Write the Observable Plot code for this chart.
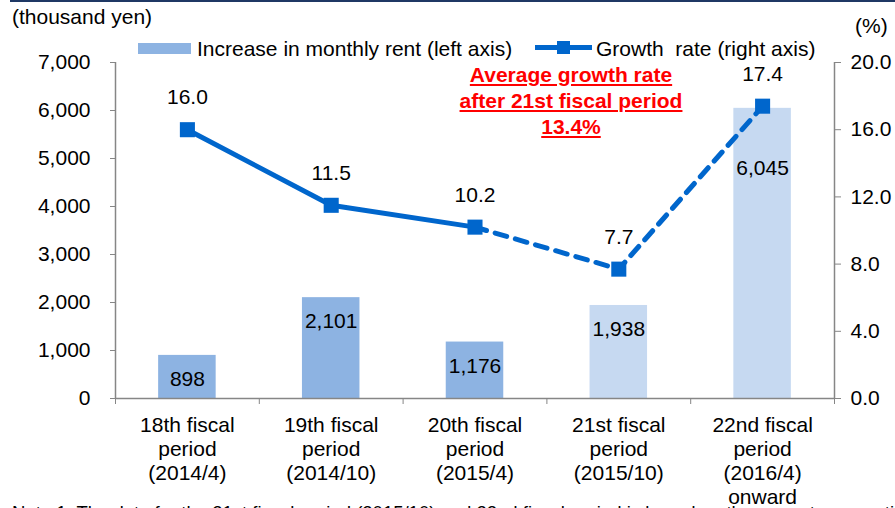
<!DOCTYPE html>
<html>
<head>
<meta charset="utf-8">
<script src="https://cdn.jsdelivr.net/npm/d3@7"></script>
<script src="https://cdn.jsdelivr.net/npm/@observablehq/plot@0.6"></script>
<style>
  html, body { margin: 0; padding: 0; background: #fff; overflow: hidden; }
  #wrap { position: relative; width: 895px; height: 508px; font-family: "Liberation Sans", Arial, sans-serif; color: #000; }
  #wrap svg { position: absolute; left: 0; top: 0; }
  .ov { position: absolute; white-space: nowrap; font-size: 21px; line-height: 21px; }
</style>
</head>
<body>
<div id="wrap">
  <div style="position:absolute;left:10px;top:0;width:885px;height:2px;background:#1f3864;"></div>
  <div class="ov" style="left:12px;top:6px;">(thousand yen)</div>
  <div class="ov" style="left:855px;top:15px;">(%)</div>
  <div style="position:absolute;left:138px;top:43px;width:53px;height:11px;background:#8db3e2;"></div>
  <div class="ov" style="left:197px;top:38px;">Increase in monthly rent (left axis)</div>
  <div style="position:absolute;left:535px;top:45px;width:57px;height:5px;background:#0066cc;"></div>
  <div style="position:absolute;left:557px;top:41px;width:13px;height:13px;background:#0066cc;"></div>
  <div class="ov" style="left:596px;top:38px;">Growth&nbsp; rate (right axis)</div>
  <div style="position:absolute;left:421px;top:62px;width:300px;text-align:center;color:#ff0000;font-weight:bold;font-size:21px;line-height:26px;text-decoration:underline;">Average growth rate<br>after 21st fiscal period<br>13.4%</div>
  <div class="ov" style="left:12px;top:502px;font-size:18.5px;">Note 1: The data for the 21st fiscal period (2015/10) and 22nd fiscal period is based on the current assumptions.</div>
</div>
<script>
const periods = [
  "18th fiscal\nperiod\n(2014/4)",
  "19th fiscal\nperiod\n(2014/10)",
  "20th fiscal\nperiod\n(2015/4)",
  "21st fiscal\nperiod\n(2015/10)",
  "22nd fiscal\nperiod\n(2016/4)\nonward"
];
const rentIncrease = [898, 2101, 1176, 1938, 6045];
const growthRate = [16.0, 11.5, 10.2, 7.7, 17.4];
const isForecast = [false, false, false, true, true];
const leftTicks = [0, 1000, 2000, 3000, 4000, 5000, 6000, 7000];
const rightTicks = [0, 4, 8, 12, 16, 20];

const leftMax = 7000, rightMax = 20;
const k = leftMax / rightMax;

const rows = periods.map((p, i) => ({i, period: p, rent: rentIncrease[i], rate: growthRate[i], forecast: isForecast[i]}));
const bounds = d3.range(periods.length + 1).map(i => i - 0.5);
const half = 0.2;
const axisGray = "#868686";
const fmt = d3.format(",");

const chart = Plot.plot({
  width: 895,
  height: 508,
  marginLeft: 115,
  marginRight: 61,
  marginTop: 62,
  marginBottom: 110,
  style: {fontFamily: "'Liberation Sans', Arial, sans-serif", fontSize: "21px", color: "#000", background: "transparent"},
  x: {type: "linear", domain: [-0.5, periods.length - 0.5], axis: null},
  y: {domain: [0, leftMax], axis: null},
  marks: [
    Plot.rectY(rows.filter(d => !d.forecast), {x1: d => d.i - half, x2: d => d.i + half, y1: 0, y2: "rent", fill: "#8db3e2"}),
    Plot.rectY(rows.filter(d => d.forecast), {x1: d => d.i - half, x2: d => d.i + half, y1: 0, y2: "rent", fill: "#c6d9f1"}),
    Plot.ruleX([-0.5], {stroke: axisGray, strokeWidth: 1.5}),
    Plot.ruleX([periods.length - 0.5], {stroke: axisGray, strokeWidth: 1.5}),
    Plot.ruleY([0], {stroke: axisGray, strokeWidth: 1.5}),
    Plot.axisY(leftTicks, {anchor: "left", tickSize: 5, tickPadding: 20, stroke: axisGray, fill: "#000", tickFormat: fmt, label: null, fontSize: 21}),
    Plot.axisY(rightTicks.map(v => v * k), {anchor: "right", tickSize: 6, tickPadding: 10, stroke: axisGray, fill: "#000", tickFormat: d => (d / k).toFixed(1), label: null, fontSize: 21}),
    Plot.axisX(bounds, {anchor: "bottom", tickSize: 6, stroke: axisGray, tickFormat: () => "", label: null}),
    Plot.axisX(d3.range(periods.length), {anchor: "bottom", tickSize: 0, tickPadding: 16, fill: "#000", tickFormat: i => periods[i], label: null, fontSize: 21, lineHeight: 1.15}),
    Plot.line(rows.filter(d => d.i <= 2), {x: "i", y: d => d.rate * k, stroke: "#0066cc", strokeWidth: 5}),
    Plot.line(rows.filter(d => d.i >= 2), {x: "i", y: d => d.rate * k, stroke: "#0066cc", strokeWidth: 5, strokeDasharray: "12,9"}),
    Plot.dot(rows, {x: "i", y: d => d.rate * k, symbol: "square", r: 8.5, fill: "#0066cc"}),
    Plot.text(rows, {x: "i", y: d => d.rate * k, text: d => d.rate.toFixed(1), dy: -32, fontSize: 21, fill: "#000"}),
    Plot.text(rows.filter(d => d.rent < 5000), {x: "i", y: "rent", text: d => fmt(d.rent), dy: 24, fontSize: 21, fill: "#000"}),
    Plot.text(rows.filter(d => d.rent >= 5000), {x: "i", y: "rent", text: d => fmt(d.rent), dy: 60, fontSize: 21, fill: "#000"})
  ]
});
document.getElementById("wrap").prepend(chart);
</script>
</body>
</html>
